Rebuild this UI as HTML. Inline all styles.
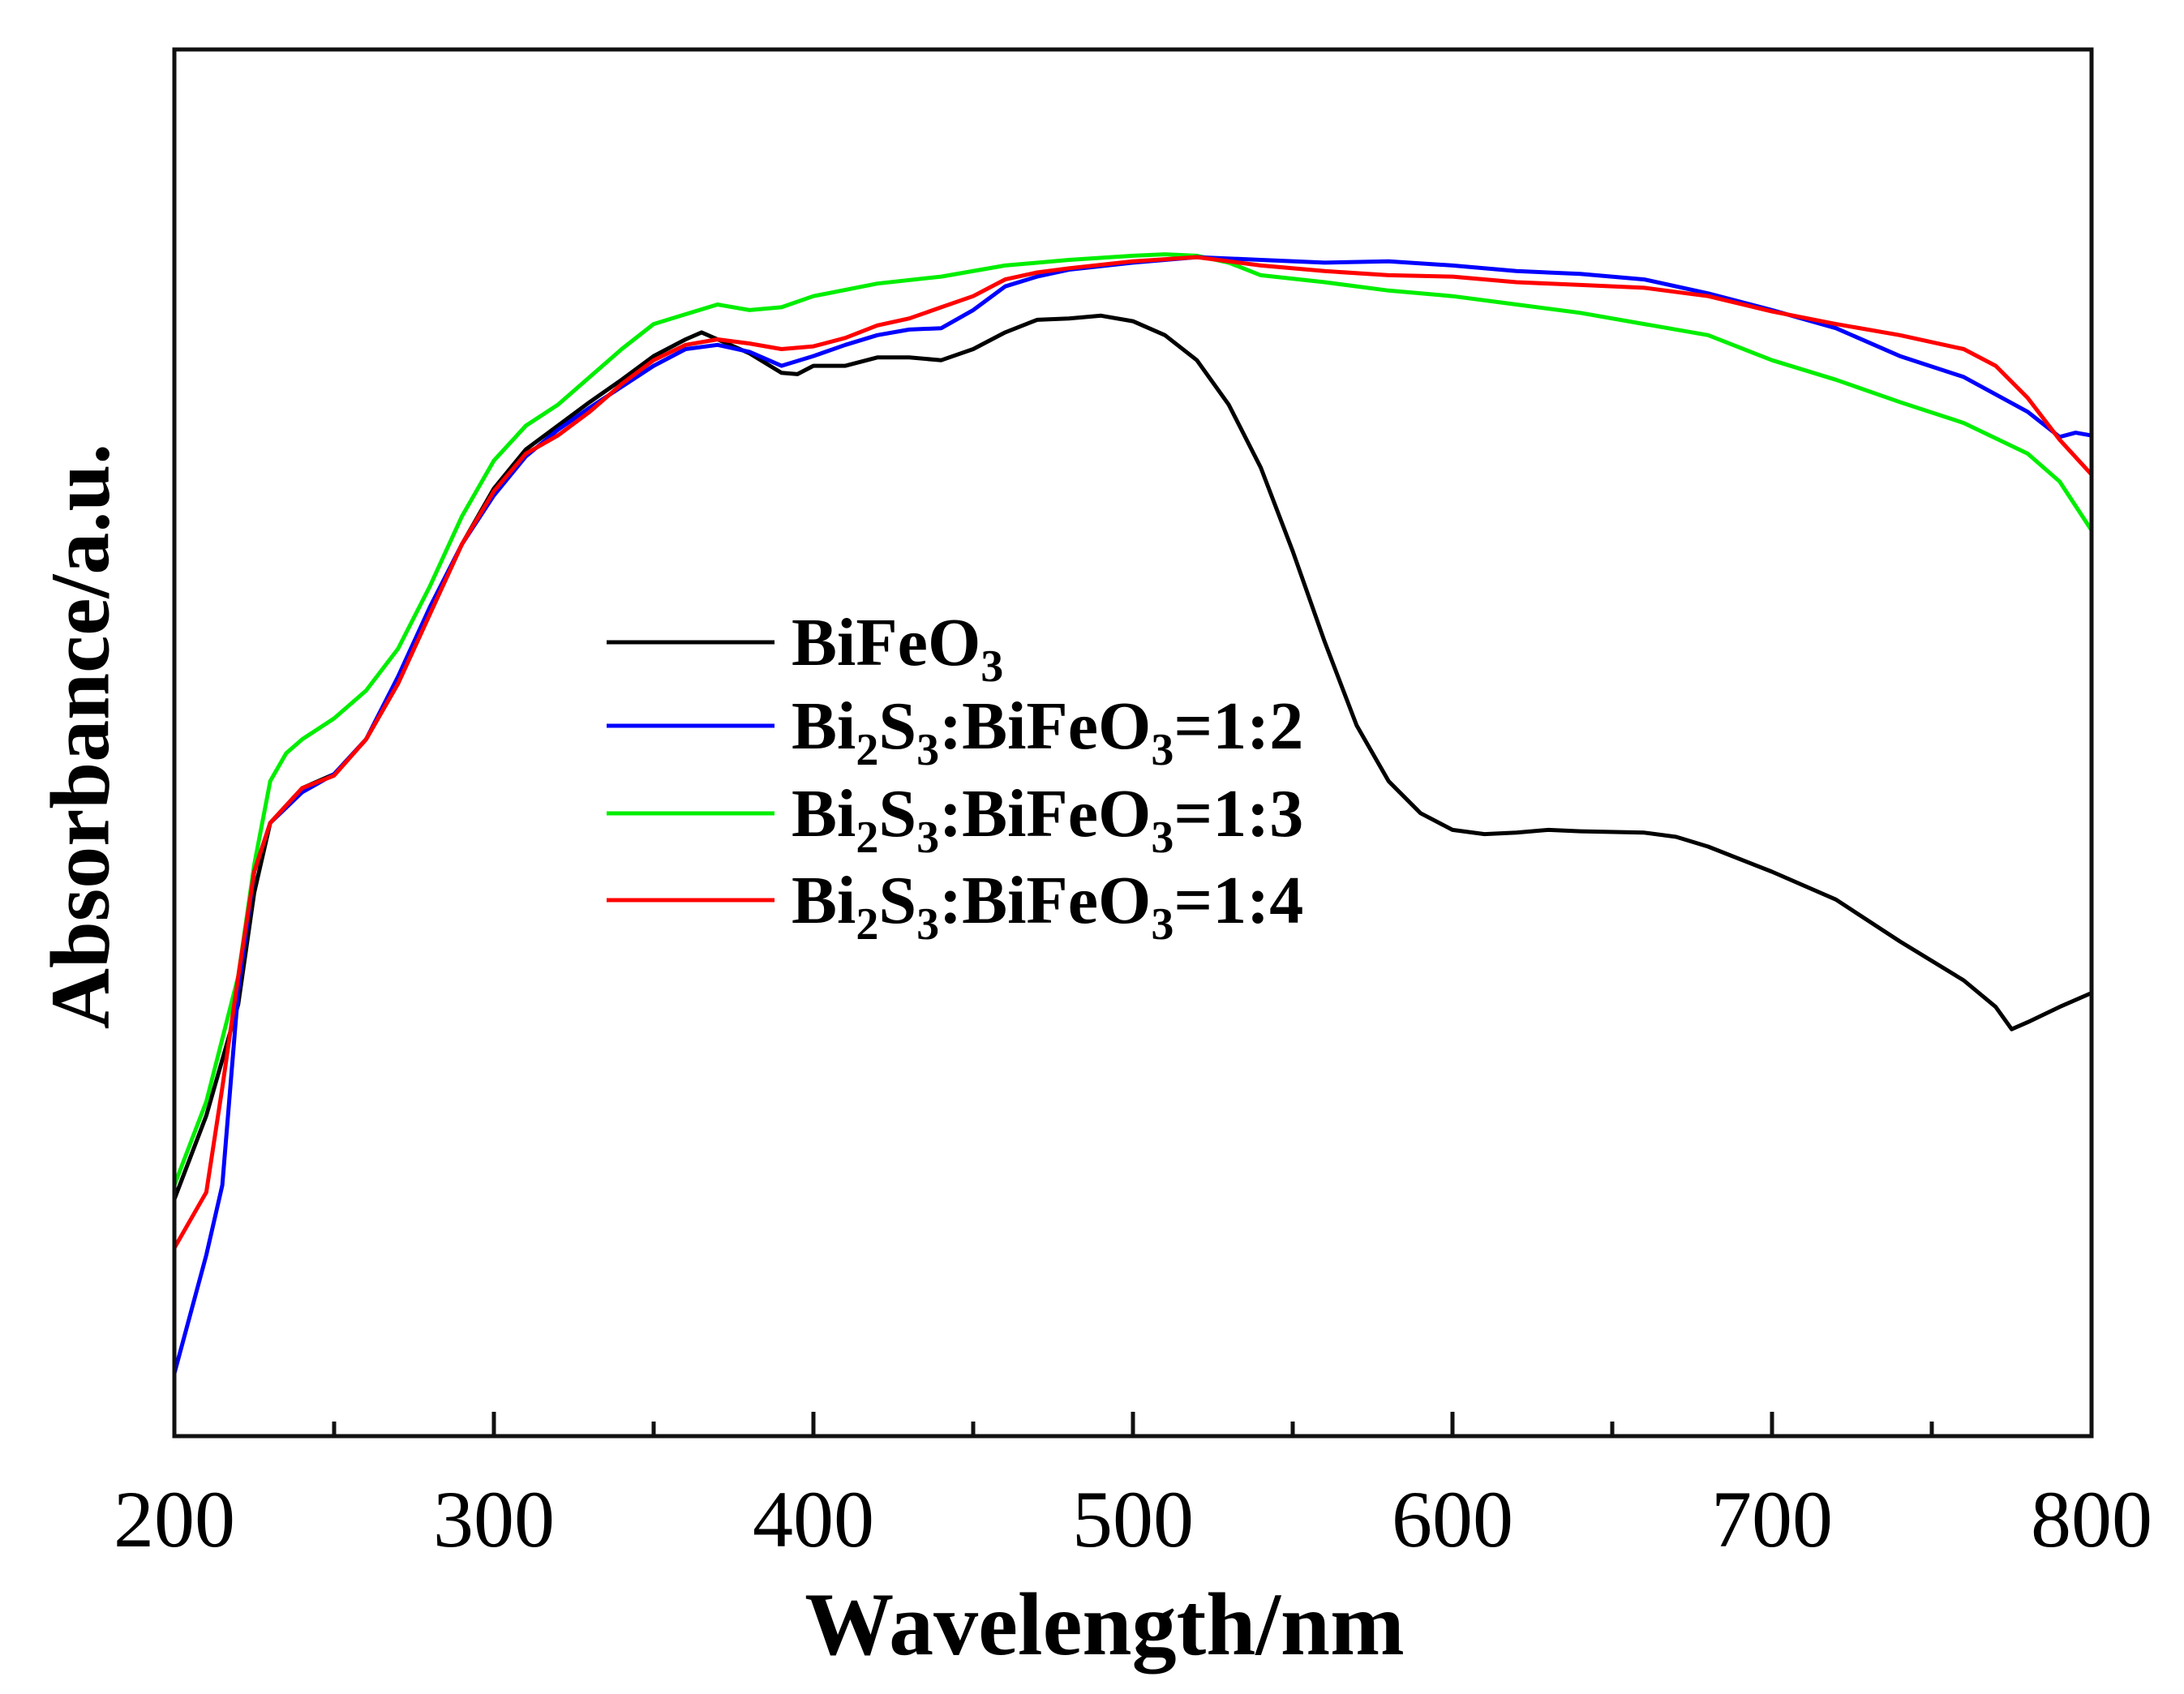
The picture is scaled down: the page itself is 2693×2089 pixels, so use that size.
<!DOCTYPE html>
<html><head><meta charset="utf-8"><style>
html,body{margin:0;padding:0;background:#fff;}
svg{display:block;font-family:"Liberation Serif",serif;}
</style></head><body>
<svg id="chart" width="2693" height="2089" viewBox="0 0 2693 2089" xmlns="http://www.w3.org/2000/svg">
<rect width="2693" height="2089" fill="#fff"/>
<g id="curves"></g>
<g id="axes"></g>
<g id="legend"></g>
<text x="1362" y="2040" text-anchor="middle" font-size="110" font-weight="bold">Wavelength/nm</text>
<text x="0" y="0" transform="translate(99,908) rotate(-90)" text-anchor="middle" dominant-baseline="central" font-size="104" font-weight="bold">Absorbance/a.u.</text>
</svg>
<script>
const xTicks = [200,300,400,500,600,700,800];
const xMinorTicks = [250,350,450,550,650,750];
const bfoX = [200,210,220,225,230,240,250,260,270,280,290,300,310,320,330,340,350,360,365,370,380,390,395,400,410,420,430,440,450,460,470,480,490,500,510,520,530,540,550,560,570,580,590,600,610,620,630,640,660,670,680,700,720,740,760,770,775,780,790,800];
const bfoY = [.170,.230,.310,.390,.440,.465,.475,.500,.540,.590,.640,.680,.708,.725,.742,.758,.775,.787,.792,.787,.777,.763,.762,.768,.768,.774,.774,.772,.780,.792,.801,.802,.804,.800,.790,.772,.740,.695,.635,.570,.510,.470,.447,.435,.432,.433,.435,.434,.433,.430,.423,.405,.385,.355,.327,.308,.292,.297,.308,.318];
const r12X = [200,210,215,220,225,230,240,250,260,270,280,290,300,310,320,330,340,350,360,370,380,390,400,410,420,430,440,450,460,470,480,500,520,540,560,580,600,620,640,660,680,700,720,740,760,780,790,795,800];
const r12Y = [.045,.130,.180,.320,.405,.440,.462,.475,.500,.545,.595,.640,.675,.703,.722,.738,.753,.768,.780,.783,.778,.768,.775,.783,.790,.794,.795,.808,.825,.832,.837,.842,.846,.844,.842,.843,.840,.836,.834,.830,.820,.808,.795,.775,.760,.735,.717,.720,.718];
const r13X = [200,210,220,225,230,235,240,250,260,270,280,290,300,310,320,330,340,350,360,370,380,390,400,420,440,460,480,500,510,520,530,540,560,580,600,620,640,660,680,700,720,740,760,780,790,800];
const r13Y = [.180,.240,.330,.410,.470,.490,.500,.515,.535,.565,.610,.660,.700,.725,.740,.760,.780,.798,.805,.812,.808,.810,.818,.827,.832,.840,.844,.847,.848,.847,.842,.833,.828,.822,.818,.812,.806,.798,.790,.772,.758,.742,.727,.705,.685,.650];
const r14X = [200,210,215,220,225,230,240,250,260,270,280,290,300,310,320,330,340,350,360,370,380,390,400,410,420,430,440,450,460,470,480,500,520,540,560,580,600,620,640,660,680,700,720,740,760,770,780,790,800];
const r14Y = [.135,.175,.250,.330,.405,.440,.465,.474,.500,.540,.590,.640,.678,.705,.718,.735,.755,.772,.783,.787,.784,.780,.782,.788,.797,.802,.810,.818,.830,.835,.838,.843,.846,.840,.836,.833,.832,.828,.826,.824,.818,.807,.798,.790,.780,.768,.745,.715,.690];

const L=215,R=2579,T=61,B=1771;
const xs = w => L + (w-200)/600*(R-L);
const ys = v => B - v/0.995*(B-T);
const NS="http://www.w3.org/2000/svg";
function mk(tag, attrs, parent){const e=document.createElementNS(NS,tag);for(const k in attrs)e.setAttribute(k,attrs[k]);parent.appendChild(e);return e;}
const curves=document.getElementById('curves');
const series=[[bfoX,bfoY,'#000','bifeo3-curve'],[r12X,r12Y,'#0000ff','ratio-1-2-curve'],[r13X,r13Y,'#00ee00','ratio-1-3-curve'],[r14X,r14Y,'#ff0000','ratio-1-4-curve']];
[series[0],series[2],series[1],series[3]].forEach(s=>{
  const d=s[0].map((w,i)=>(i?'L':'M')+xs(w).toFixed(1)+' '+ys(s[1][i]).toFixed(1)).join(' ');
  const p=mk('path',{d:d,fill:'none',stroke:s[2],'stroke-width':5,'stroke-linejoin':'round'},curves);
  
  
});
const axes=document.getElementById('axes');
const frame=mk('rect',{x:L,y:T,width:R-L,height:B-T,fill:'none',stroke:'#111','stroke-width':5},axes);


xTicks.forEach(w=>{
  const t=mk('line',{x1:xs(w),x2:xs(w),y1:B,y2:B-30,stroke:'#111','stroke-width':5},axes);
  
  
  const lb=mk('text',{x:xs(w),y:1907,'text-anchor':'middle','font-size':100},axes);
  lb.textContent=w;
  
  
});
xMinorTicks.forEach(w=>{
  const t=mk('line',{x1:xs(w),x2:xs(w),y1:B,y2:B-18,stroke:'#111','stroke-width':5},axes);
  
  
});
const legend=document.getElementById('legend');
const legY=[792,895,1003,1110];
series.forEach((s,i)=>{
  const ln=mk('line',{x1:748,x2:955,y1:legY[i],y2:legY[i],stroke:s[2],'stroke-width':5},legend);
  
  
  const tx=mk('text',{x:976,y:legY[i]+28,'font-size':84,'font-weight':'bold'},legend);
  
  
  if(i===0){
    tx.innerHTML='BiFeO<tspan font-size="56" dy="20">3</tspan>';
  } else {
    tx.innerHTML='Bi<tspan font-size="56" dy="20">2</tspan><tspan dy="-20">S</tspan><tspan font-size="56" dy="20">3</tspan><tspan dy="-20">:BiFeO</tspan><tspan font-size="56" dy="20">3</tspan><tspan dy="-20">=1:'+(i+1)+'</tspan>';
  }
});
</script>
</body></html>
